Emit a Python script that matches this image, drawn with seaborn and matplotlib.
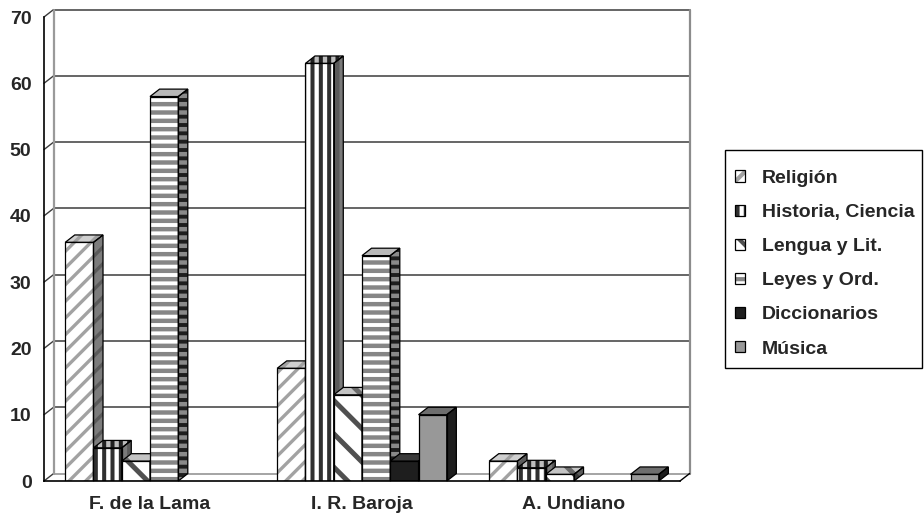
import numpy as np
import pandas as pd
import seaborn as sns
import matplotlib.pyplot as plt
from matplotlib.patches import Polygon, Rectangle, Patch
from matplotlib.legend_handler import HandlerTuple

# ---- data -------------------------------------------------------------
libraries = ["F. de la Lama", "I. R. Baroja", "A. Undiano"]
subjects = ["Religión", "Historia, Ciencia", "Lengua y Lit.",
            "Leyes y Ord.", "Diccionarios", "Música"]
religion = [36, 17, 3]
historia = [5, 63, 2]
lengua = [3, 13, 1]
leyes = [58, 34, 0]
diccionarios = [0, 3, 0]
musica = [0, 10, 1]
y_ticks = [0, 10, 20, 30, 40, 50, 60, 70]

series = [religion, historia, lengua, leyes, diccionarios, musica]
df = pd.DataFrame({
    "Biblioteca": [lib for s in series for lib in libraries],
    "Materia": [subj for subj, s in zip(subjects, series) for _ in libraries],
    "Obras": [v for s in series for v in s],
})

# ---- styling ------------------------------------------------------------
front_face = ["white", "white", "white", "white", "#1e1e1e", "#989898"]
front_hatch = ["#a2a2a2", "#303030", "#505050", "#868686", None, None]
patterns = ["//", "||", "\\", "--", "", ""]
legend_patterns = ["//", "||", "\\\\", "--", "", ""]
hatch_lw = [2.4, 2.9, 3.6, 3.2, 1.0, 1.0]
side_face = ["#7c7c7c", "#7a7a7a", "#5c5c5c", "#1e1e1e", "#101010", "#1e1e1e"]
side_hatch = ["#5a5a5a", "#5a5a5a", "#3a3a3a", "#8a8a8a", None, None]
top_face = ["#cfcfcf", "#bdbdbd", "#c4c4c4", "#b8b8b8", "#3a3a3a", "#6e6e6e"]
top_hatch = ["#a0a0a0", "#202020", "#6a6a6a", None, None, None]

sns.set_style("white")
plt.rcParams["hatch.linewidth"] = 3.0
plt.rcParams["font.family"] = ["Liberation Sans", "DejaVu Sans"]
plt.rcParams["font.weight"] = "bold"
FS = 14


def apply_hatch(patch, color, pattern, lw):
    patch.set_edgecolor(color)
    patch.set_hatch(pattern)
    patch.set_linewidth(0)
    if hasattr(patch, "set_hatch_linewidth"):
        patch.set_hatch_linewidth(lw)


W, H = 924, 514
fig = plt.figure(figsize=(W / 100, H / 100), dpi=100)
fig.patch.set_facecolor("white")
ax = fig.add_axes([44 / W, 1 - 481 / H, 636 / W, 464 / H])
ax.set_facecolor("none")

sns.barplot(data=df, x="Biblioteca", y="Obras", hue="Materia",
            order=libraries, hue_order=subjects, palette=front_face,
            width=0.8, saturation=1, legend=False, ax=ax, errorbar=None)

ax.set_xlim(-0.5, 2.5)
ax.set_ylim(0, 70)
ymax = 70

# depth offset of the pseudo-3D scene (data units)
dx, dy = 0.045, 1.12
x0w, x1w = -0.5, 2.5

# back wall, gridlines and side wall ticks
wall_kw = dict(clip_on=False, zorder=0.5)
for t in y_ticks:
    col = "#3c3c3c" if t > 0 else "#8c8c8c"
    ax.plot([x0w + dx, x1w + dx], [t + dy, t + dy], color=col, lw=1.1, **wall_kw)
    ax.plot([x0w, x0w + dx], [t, t + dy], color="#3c3c3c", lw=1.0, **wall_kw)
ax.plot([x0w + dx, x0w + dx], [dy, ymax + dy], color="#9a9a9a", lw=1.6, **wall_kw)
ax.plot([x1w + dx, x1w + dx], [dy, ymax + dy], color="#8c8c8c", lw=1.6, **wall_kw)
ax.plot([x1w, x1w + dx], [0, dy], color="black", lw=1.0, **wall_kw)

# pseudo-3D bars built on top of the seaborn rectangles
step = 0.8 / len(subjects)
bars = []
for p in ax.patches:
    w = p.get_width()
    cx = p.get_x() + w / 2
    j = int(round(cx))
    i = int(round((cx - j + 0.4) / step - 0.5))
    bars.append((p.get_x(), i, p))
bars.sort(key=lambda b: b[0])

for k, (x, i, p) in enumerate(bars):
    h = p.get_height()
    w = p.get_width()
    z = 2 + k * 0.01
    if h <= 0:
        p.set_visible(False)
        continue
    p.set_zorder(z)
    p.set_facecolor(front_face[i])
    if patterns[i]:
        apply_hatch(p, front_hatch[i], patterns[i], hatch_lw[i])
    p.set_linewidth(0)
    ax.add_patch(Rectangle((x, 0), w, h, fill=False, ec="black", lw=0.9,
                           zorder=z + 0.001))
    side = Polygon([(x + w, 0), (x + w + dx, dy), (x + w + dx, h + dy), (x + w, h)],
                   closed=True, fc=side_face[i], lw=0, zorder=z, clip_on=False)
    if side_hatch[i]:
        apply_hatch(side, side_hatch[i], patterns[i], hatch_lw[i])
    ax.add_patch(side)
    top = Polygon([(x, h), (x + dx, h + dy), (x + w + dx, h + dy), (x + w, h)],
                  closed=True, fc=top_face[i], lw=0, zorder=z, clip_on=False)
    if top_hatch[i]:
        apply_hatch(top, top_hatch[i], patterns[i], hatch_lw[i])
    ax.add_patch(top)
    for poly in (side.get_xy(), top.get_xy()):
        ax.add_patch(Polygon(poly, closed=True, fill=False, ec="black", lw=0.9,
                             zorder=z + 0.001, clip_on=False))

# axes and ticks
for s in ("top", "right"):
    ax.spines[s].set_visible(False)
for s in ("left", "bottom"):
    ax.spines[s].set_color("black")
    ax.spines[s].set_linewidth(1.2)
    ax.spines[s].set_zorder(5)

ax.set_yticks(y_ticks)
ax.set_yticklabels([str(t) for t in y_ticks], fontsize=FS, fontweight="bold")
ax.tick_params(axis="y", direction="out", length=5, width=1.1, color="black", pad=4)
ax.set_xticks(range(len(libraries)))
ax.set_xticklabels(libraries, fontsize=FS, fontweight="bold")
ax.set_xticks([-0.5, 0.5, 1.5, 2.5], minor=True)
ax.tick_params(axis="x", which="major", length=0, pad=11)
ax.tick_params(axis="x", which="minor", direction="out", length=7, width=1.1,
               color="black")
ax.set_xlabel("")
ax.set_ylabel("")
ax.grid(False)

# legend with hatched swatches inside a drawn frame
frame = Rectangle((725 / W, 1 - 368 / H), 197 / W, 218 / H,
                  transform=fig.transFigure, fill=False, ec="black", lw=1.0)
fig.add_artist(frame)
handles = []
for i in range(len(subjects)):
    fill = Patch(facecolor=front_face[i], linewidth=0)
    if legend_patterns[i]:
        apply_hatch(fill, front_hatch[i], legend_patterns[i], min(hatch_lw[i], 2.2))
    outline = Patch(facecolor="none", edgecolor="black", linewidth=0.9)
    handles.append((fill, outline))
leg = fig.legend(handles, subjects, loc="upper left",
                 bbox_to_anchor=(735 / W, 1 - 170 / H),
                 handler_map={tuple: HandlerTuple(ndivide=1, pad=0)},
                 prop={"size": FS, "weight": "bold"},
                 handlelength=0.52, handleheight=0.52, handletextpad=0.85,
                 labelspacing=0.88, borderpad=0, borderaxespad=0,
                 frameon=False)

fig.savefig("out.png", dpi=100, facecolor="white")
